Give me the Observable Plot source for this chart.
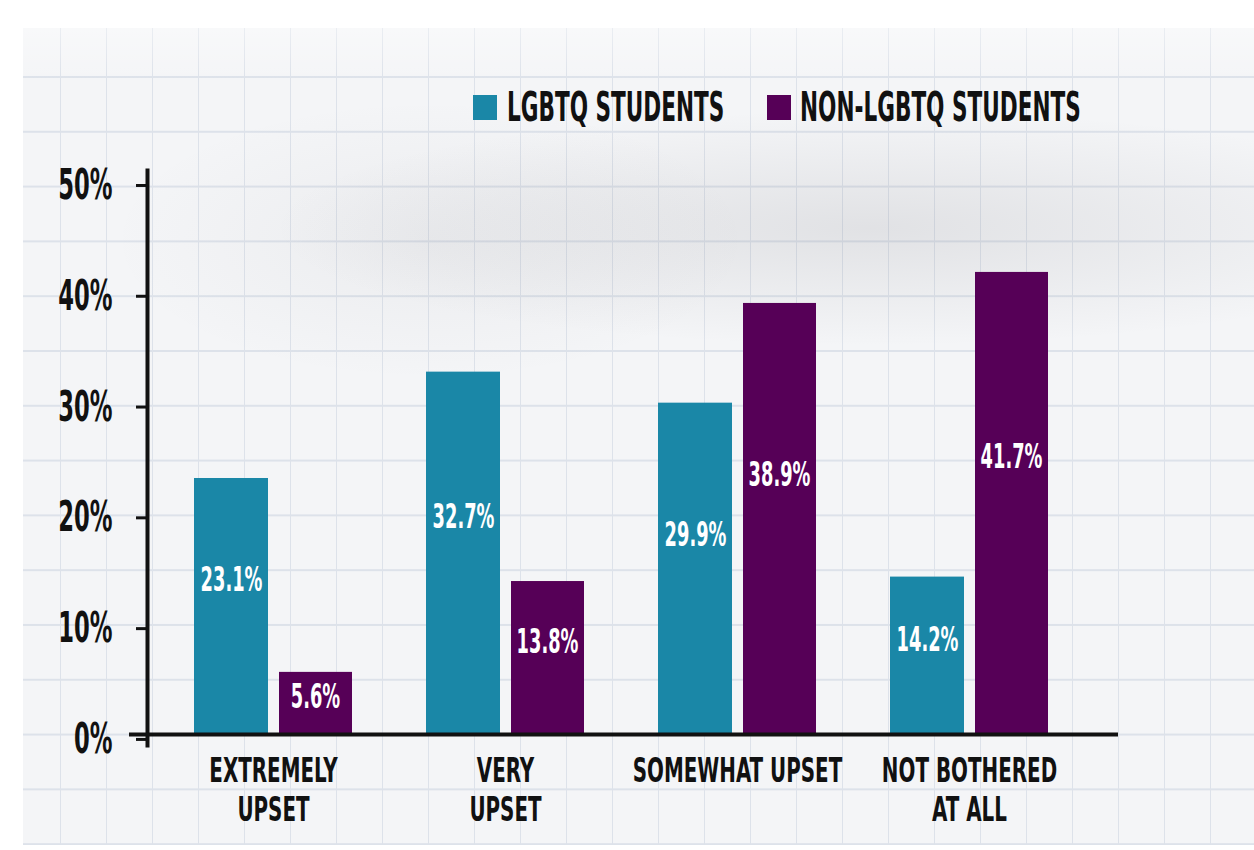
<!DOCTYPE html>
<html>
<head>
<meta charset="utf-8">
<script src="https://cdn.jsdelivr.net/npm/d3@7"></script>
<script src="https://cdn.jsdelivr.net/npm/@observablehq/plot@0.6"></script>
<style>
  html, body { margin: 0; padding: 0; background: #fff; }
  #page { position: relative; width: 1254px; height: 850px; overflow: hidden; background: #fff;
    font-family: "DejaVu Sans Condensed", "Liberation Sans Narrow", "DejaVu Sans", sans-serif; }
  #paper { position: absolute; left: 23px; top: 28px; right: 0; bottom: 5px;
    background-color: #f4f5f7;
    background-image:
      linear-gradient(to right, #dde2ea 0, #dde2ea 1.5px, transparent 1.5px),
      linear-gradient(to bottom, #dde2ea 0, #dde2ea 1.5px, transparent 1.5px);
    background-size: 46px 54.8px, 46px 54.8px;
    background-position: 37px 0, 0 48px; }
  #shade { position: absolute; left: 0; top: 0; width: 1254px; height: 850px; pointer-events: none;
    background:
      radial-gradient(ellipse 600px 118px at 870px 228px, rgba(70,70,80,0.11), rgba(70,70,80,0) 100%),
      radial-gradient(ellipse 320px 140px at 430px 240px, rgba(70,70,80,0.05), rgba(70,70,80,0) 100%),
      linear-gradient(to bottom, rgba(255,255,255,0.6) 0px, rgba(255,255,255,0) 80px); }
  #legend { position: relative; height: 150px; }
  .swatch { position: absolute; top: 95px; width: 24px; height: 25px; }
  .ltext { position: absolute; top: 87px; font-size: 40px; line-height: 1; font-weight: bold; color: #111;
    white-space: nowrap; transform: scaleX(0.6); transform-origin: 0 50%; }
  #chart { position: relative; }
</style>
</head>
<body>
<div id="page">
  <div id="paper"></div>
  <div id="shade"></div>
  <div id="legend"></div>
  <div id="chart"></div>
</div>
<script>
const categories = ["EXTREMELY\nUPSET", "VERY\nUPSET", "SOMEWHAT UPSET", "NOT BOTHERED\nAT ALL"];
const seriesNames = ["LGBTQ STUDENTS", "NON-LGBTQ STUDENTS"];
const seriesColors = ["#1a87a7", "#560057"];
const lgbtqValues = [23.1, 32.7, 29.9, 14.2];
const nonLgbtqValues = [5.6, 13.8, 38.9, 41.7];
const yTicks = [0, 10, 20, 30, 40, 50];

const lgbtq = categories.map((c, i) => ({category: c, value: lgbtqValues[i]}));
const nonLgbtq = categories.map((c, i) => ({category: c, value: nonLgbtqValues[i]}));

// legend (HTML, above the chart)
const legend = document.getElementById("legend");
const swatchLeft = [473, 767];
const textLeft = [507, 800];
seriesNames.forEach((name, i) => {
  const sw = document.createElement("div");
  sw.className = "swatch";
  sw.style.left = swatchLeft[i] + "px";
  sw.style.background = seriesColors[i];
  const tx = document.createElement("div");
  tx.className = "ltext";
  tx.style.left = textLeft[i] + "px";
  tx.textContent = name;
  legend.append(sw, tx);
});

const font = '"DejaVu Sans Condensed", "Liberation Sans Narrow", "DejaVu Sans", sans-serif';

const chart = Plot.plot({
  width: 1254,
  height: 700,
  marginLeft: 147,
  marginRight: 136,
  marginTop: 20,
  marginBottom: 105,
  style: {background: "transparent", fontFamily: font, fontWeight: "bold", color: "#111"},
  x: {domain: categories, paddingInner: 0.319, paddingOuter: 0.245, align: 0.4, label: null},
  y: {domain: [-1, 50.9], label: null},
  marks: [
    Plot.barY(lgbtq, {x: "category", y: "value", fill: seriesColors[0], insetRight: 84}),
    Plot.barY(nonLgbtq, {x: "category", y: "value", fill: seriesColors[1], insetLeft: 85}),
    Plot.text(lgbtq, {x: "category", y: d => d.value * 0.6, text: d => d.value.toFixed(1) + "%",
      dx: -42, fill: "white", fontSize: 33, fontWeight: "bold"}),
    Plot.text(nonLgbtq, {x: "category", y: d => d.value * 0.6, text: d => d.value.toFixed(1) + "%",
      dx: 42, fill: "white", fontSize: 33, fontWeight: "bold"}),
    Plot.axisY({ticks: yTicks, tickFormat: d => d + "%", tickSize: 11, tickPadding: 24,
      fontSize: 42, strokeWidth: 3, stroke: "#111", fill: "#111", dy: 5, label: null}),
    Plot.axisX({tickSize: 0, tickPadding: 9, fontSize: 33, lineHeight: 1.18, fill: "#111", label: null}),
    Plot.frame({anchor: "left", stroke: "#111", strokeWidth: 4}),
    Plot.ruleY([0], {stroke: "#111", strokeWidth: 4, insetLeft: -18})
  ]
});

// narrow the lettering horizontally, around each label's own anchor point
chart.querySelectorAll("text").forEach(t => {
  const g = t.closest("g[aria-label]");
  const role = g ? g.getAttribute("aria-label") : "";
  const SX = role === "x-axis tick label" ? 0.67 : 0.6;
  const tr = t.getAttribute("transform");
  if (tr) {
    t.setAttribute("transform", tr + ` scale(${SX},1)`);
  } else {
    const x = parseFloat(t.getAttribute("x")) || 0;
    t.setAttribute("transform", `translate(${x},0) scale(${SX},1) translate(${-x},0)`);
  }
});
document.getElementById("chart").append(chart);
</script>
</body>
</html>
